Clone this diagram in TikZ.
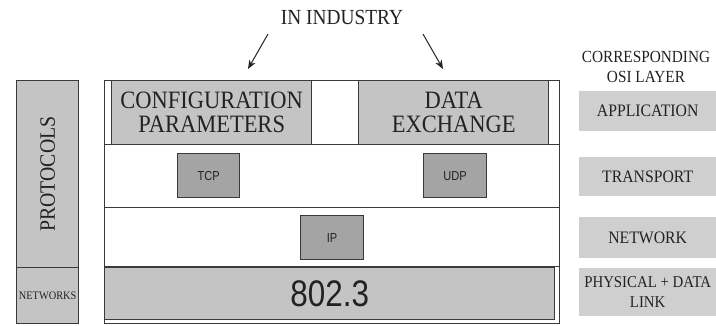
\documentclass[tikz,border=0pt]{standalone}
\usepackage{fontspec}
\setmainfont{Liberation Serif}[FakeStretch=0.9]
\newfontfamily\sansf{Liberation Sans}[FakeStretch=0.85]
\usetikzlibrary{arrows.meta}
\definecolor{bordc}{HTML}{3A3A3A}
\definecolor{lgray}{HTML}{C4C4C4}
\definecolor{mgray}{HTML}{A4A4A4}
\definecolor{rgray}{HTML}{CFCFCF}
\definecolor{txtc}{HTML}{222222}
\tikzset{
  box/.style={draw=bordc, line width=1.3pt, fill=lgray, inner sep=0pt, align=center, anchor=north west, text=txtc},
  wbox/.style={box, fill=white},
  sbox/.style={box, fill=mgray, line width=1.2pt, font=\sansf\fontsize{13}{13}\selectfont},
  osibox/.style={fill=rgray, inner sep=0pt, align=center, anchor=north west, text=txtc},
  plain/.style={inner sep=0pt, align=center, text=txtc},
  big/.style={font=\fontsize{25}{24}\selectfont},
  osif/.style={font=\fontsize{17.5}{18}\selectfont},
  arr/.style={-{Stealth[length=9pt,width=7pt]}, line width=1pt, draw=txtc}
}
\begin{document}
\begin{tikzpicture}[x=1pt,y=-1pt]
\useasboundingbox (0,0) rectangle (716,325);
% left column
\node[box, minimum width=62, minimum height=187] (prot) at (16,80) {\rotatebox{90}{\fontsize{22}{22}\selectfont PROTOCOLS}};
\node[box, minimum width=62, minimum height=56, font=\fontsize{11.5}{12}\selectfont] (netw) at (16,267) {NETWORKS};
% main stack rows
\node[wbox, minimum width=455, minimum height=64] (row1) at (104,80) {};
\node[wbox, minimum width=455, minimum height=63] (row2) at (104,144) {};
\node[wbox, minimum width=455, minimum height=59] (row3) at (104,207) {};
\node[wbox, minimum width=455, minimum height=57] (row4) at (104,266) {};
% application row
\node[box, big, minimum width=200, minimum height=64] (conf) at (111,80) {CONFIGURATION\\PARAMETERS};
\node[box, big, minimum width=190, minimum height=64] (data) at (358,80) {DATA\\EXCHANGE};
% transport row
\node[sbox, minimum width=62, minimum height=44] (tcp) at (177,153) {TCP};
\node[sbox, minimum width=63, minimum height=44] (udp) at (423,153) {UDP};
% network row
\node[sbox, minimum width=63, minimum height=44] (ip) at (300,215) {IP};
% link row
\node[box, minimum width=450, minimum height=52, font=\sansf\fontsize{37}{37}\selectfont] (eth) at (104,267) {802.3};
% OSI column
\node[plain, font=\fontsize{17}{20}\selectfont] (osititle) at (646,67) {CORRESPONDING\\OSI LAYER};
\node[osibox, osif, minimum width=137, minimum height=40] (app) at (579,91) {APPLICATION};
\node[osibox, osif, minimum width=137, minimum height=39] (trans) at (579,157) {TRANSPORT};
\node[osibox, osif, minimum width=137, minimum height=41] (net) at (579,217) {NETWORK};
\node[osibox, minimum width=137, minimum height=48, font=\fontsize{16.5}{20}\selectfont] (phys) at (579,268) {PHYSICAL + DATA\\LINK};
% title and arrows
\node[plain, font=\fontsize{21.5}{22}\selectfont] (ind) at (342,17) {IN INDUSTRY};
\coordinate (a1s) at (268,34);
\coordinate (a1e) at (248,69);
\coordinate (a2s) at (423,34);
\coordinate (a2e) at (443,69);
\draw[arr] (a1s) -- (a1e);
\draw[arr] (a2s) -- (a2e);
\end{tikzpicture}
\end{document}
